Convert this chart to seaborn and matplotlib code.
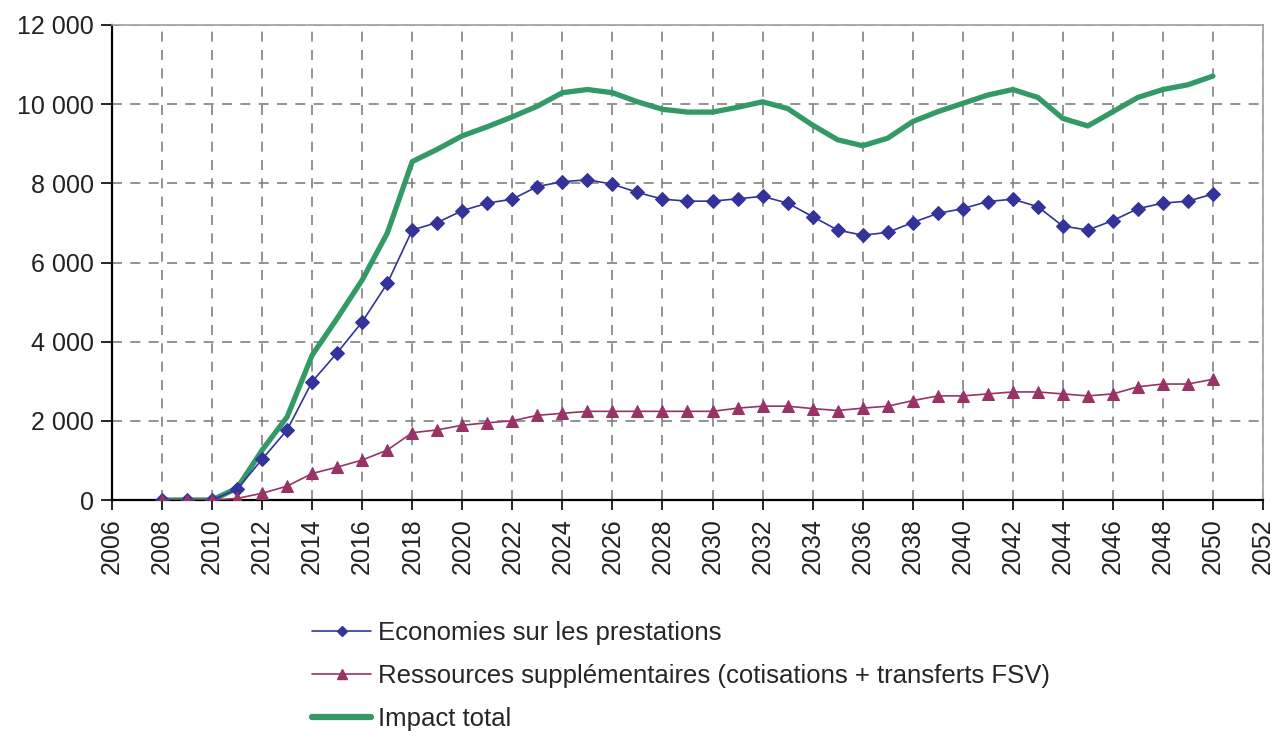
import matplotlib
matplotlib.use("Agg")
import matplotlib.pyplot as plt
import matplotlib.ticker as mticker
from matplotlib.lines import Line2D
import seaborn as sns
import numpy as np

years = list(range(2008, 2051))

economies = [0, 0, 0, 270, 1030, 1770, 2990, 3720, 4500, 5470,
             6820, 7010, 7310, 7500, 7600, 7920, 8040, 8090, 7980, 7770,
             7600, 7550, 7550, 7610, 7670, 7500, 7160, 6820, 6690, 6760,
             7010, 7240, 7360, 7540, 7600, 7410, 6920, 6820, 7060, 7360,
             7500, 7550, 7730]

ressources = [0, 0, 0, 40, 170, 350, 670, 830, 1010, 1260,
              1700, 1770, 1890, 1950, 2000, 2140, 2190, 2240, 2240, 2240,
              2240, 2240, 2240, 2320, 2370, 2370, 2310, 2260, 2320, 2370,
              2510, 2630, 2630, 2680, 2730, 2730, 2680, 2630, 2680, 2860,
              2930, 2930, 3050]

impact = [0, 0, 0, 300, 1260, 2100, 3660, 4590, 5560, 6740,
          8550, 8860, 9200, 9430, 9680, 9950, 10290, 10370, 10290, 10060,
          9870, 9800, 9800, 9920, 10060, 9890, 9470, 9100, 8950, 9140,
          9560, 9810, 10020, 10230, 10370, 10170, 9640, 9450, 9810, 10170,
          10370, 10490, 10710]

labels = ["Economies sur les prestations",
          "Ressources supplémentaires (cotisations + transferts FSV)",
          "Impact total"]
colors = ["#333399", "#993366", "#339966"]

x_ticks = list(range(2006, 2053, 2))
y_ticks = list(range(0, 12001, 2000))

sns.set_style("white")
plt.rcParams["font.family"] = ["Liberation Sans", "DejaVu Sans"]

fig = plt.figure(figsize=(12.76, 7.38), dpi=100)
ax = fig.add_axes([112 / 1276, 1 - 500 / 738, (1263 - 112) / 1276, 475 / 738])

sns.lineplot(x=years, y=impact, ax=ax, color=colors[2], linewidth=3.8, zorder=2)
sns.lineplot(x=years, y=economies, ax=ax, color=colors[0], linewidth=1.2,
             marker="D", markersize=7, markeredgecolor=colors[0], zorder=3)
sns.lineplot(x=years, y=ressources, ax=ax, color=colors[1], linewidth=1.2,
             marker="^", markersize=9, markeredgecolor=colors[1], zorder=4)

ax.set_xlim(2006, 2052)
ax.set_ylim(0, 12000)
ax.set_xticks(x_ticks)
ax.set_yticks(y_ticks)
ax.yaxis.set_major_formatter(mticker.FuncFormatter(lambda v, p: f"{int(v):,}".replace(",", " ")))
ax.tick_params(axis="x", labelrotation=90, labelsize=18, length=7, width=1.2,
               direction="out", color="black", pad=6, bottom=True)
ax.tick_params(axis="y", labelsize=18, length=8, width=1.2,
               direction="out", color="black", pad=5, left=True)
for lab in ax.get_xticklabels() + ax.get_yticklabels():
    lab.set_color("#222222")

ax.grid(True, color="#808080", linestyle=(0, (6, 5)), linewidth=1.2)
ax.set_axisbelow(True)
for s in ["left", "bottom"]:
    ax.spines[s].set_color("black")
    ax.spines[s].set_linewidth(1.6)
for s in ["top", "right"]:
    ax.spines[s].set_color("#a0a0a0")
    ax.spines[s].set_linewidth(1.2)
ax.set_xlabel("")
ax.set_ylabel("")

handles = [
    Line2D([], [], color=colors[0], linewidth=1.2, marker="D", markersize=5),
    Line2D([], [], color=colors[1], linewidth=1.2, marker="^", markersize=7),
    Line2D([], [], color=colors[2], linewidth=4.5),
]
fig.legend(handles, labels, loc="upper left",
           bbox_to_anchor=(312 / 1276, 1 - 621 / 738), frameon=False,
           fontsize=18.5, handlelength=2.3, handletextpad=0.25,
           labelspacing=0.74, borderaxespad=0, borderpad=0)

fig.savefig("out.png", dpi=100, facecolor="white")
